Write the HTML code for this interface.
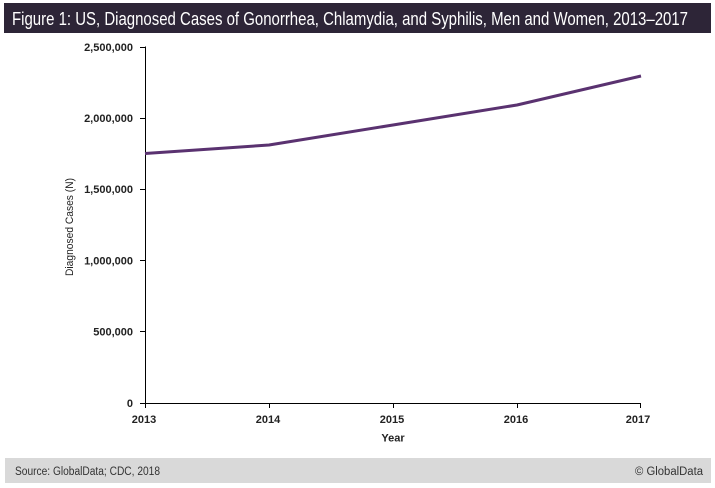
<!DOCTYPE html>
<html>
<head>
<meta charset="utf-8">
<style>
  html,body{margin:0;padding:0;background:#fff;}
  svg{display:block;}
  text{font-family:"Liberation Sans",sans-serif;}
</style>
</head>
<body>
<svg width="715" height="488" viewBox="0 0 715 488" xmlns="http://www.w3.org/2000/svg">
  <rect x="0" y="0" width="715" height="488" fill="#ffffff"/>
  <!-- Title bar -->
  <rect x="4" y="3" width="707" height="30" fill="#2d2537"/>
  <text x="12" y="25" font-size="18" fill="#ffffff" textLength="676" lengthAdjust="spacingAndGlyphs">Figure 1: US, Diagnosed Cases of Gonorrhea, Chlamydia, and Syphilis, Men and Women, 2013–2017</text>

  <!-- Axes -->
  <g stroke="#000" stroke-width="1" fill="none" shape-rendering="crispEdges">
    <line x1="145.5" y1="46.5" x2="145.5" y2="403.5"/>
    <line x1="145" y1="403.5" x2="641" y2="403.5"/>
    <!-- y ticks -->
    <line x1="140" y1="47.5" x2="145" y2="47.5"/>
    <line x1="140" y1="118.5" x2="145" y2="118.5"/>
    <line x1="140" y1="189.5" x2="145" y2="189.5"/>
    <line x1="140" y1="260.5" x2="145" y2="260.5"/>
    <line x1="140" y1="331.5" x2="145" y2="331.5"/>
    <line x1="140" y1="403.5" x2="145" y2="403.5"/>
    <!-- x ticks -->
    <line x1="145.5" y1="403" x2="145.5" y2="408"/>
    <line x1="269.5" y1="403" x2="269.5" y2="408"/>
    <line x1="393.5" y1="403" x2="393.5" y2="408"/>
    <line x1="517.5" y1="403" x2="517.5" y2="408"/>
    <line x1="640.5" y1="403" x2="640.5" y2="408"/>
  </g>

  <!-- Y tick labels -->
  <g font-size="11" font-weight="bold" fill="#222" text-anchor="end">
    <text x="133" y="51">2,500,000</text>
    <text x="133" y="122">2,000,000</text>
    <text x="133" y="193">1,500,000</text>
    <text x="133" y="264.5">1,000,000</text>
    <text x="133" y="335.5">500,000</text>
    <text x="133" y="407">0</text>
  </g>

  <!-- X tick labels -->
  <g font-size="11" font-weight="bold" fill="#222" text-anchor="middle">
    <text x="144" y="423">2013</text>
    <text x="268" y="423">2014</text>
    <text x="392" y="423">2015</text>
    <text x="516" y="423">2016</text>
    <text x="638" y="423">2017</text>
  </g>

  <!-- Axis titles -->
  <text x="393" y="441.5" font-size="11" font-weight="bold" fill="#222" text-anchor="middle">Year</text>
  <text transform="translate(73,227) rotate(-90)" font-size="11" fill="#222" text-anchor="middle" textLength="98" lengthAdjust="spacingAndGlyphs">Diagnosed Cases (N)</text>

  <!-- Series -->
  <polyline points="145,153.5 269,145 393,125 517,105 641,76" fill="none" stroke="#5a3270" stroke-width="3" stroke-linejoin="round" stroke-linecap="butt"/>

  <!-- Footer -->
  <rect x="5" y="458" width="706" height="25" fill="#d9d9d9"/>
  <text x="15" y="475" font-size="11.5" fill="#333" textLength="145" lengthAdjust="spacingAndGlyphs">Source: GlobalData; CDC, 2018</text>
  <text x="703" y="475" font-size="11.5" fill="#333" text-anchor="end" textLength="68" lengthAdjust="spacingAndGlyphs">© GlobalData</text>
</svg>
</body>
</html>
